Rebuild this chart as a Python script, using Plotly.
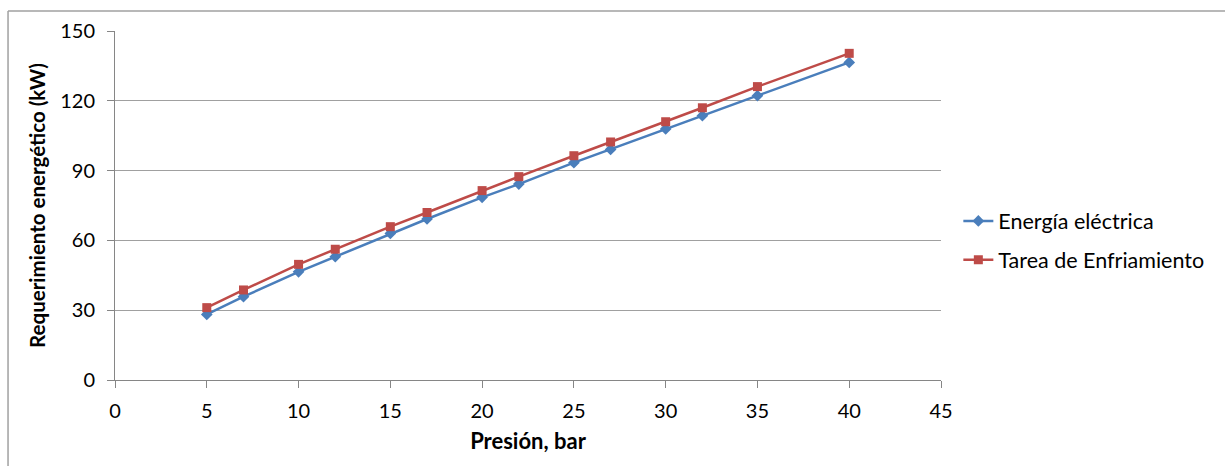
import plotly.graph_objects as go

presion = [5, 7, 10, 12, 15, 17, 20, 22, 25, 27, 30, 32, 35, 40]
energia_electrica = [28.2, 35.8, 46.5, 53.0, 63.0, 69.2, 78.5, 84.2, 93.4, 99.1, 107.9, 113.6, 122.2, 136.5]
tarea_enfriamiento = [31.1, 38.7, 49.7, 56.2, 65.9, 72.0, 81.4, 87.4, 96.4, 102.3, 111.0, 117.0, 126.1, 140.4]

FONT = "Lato, 'Open Sans', sans-serif"

fig = go.Figure()
fig.add_trace(go.Scatter(
    x=presion, y=energia_electrica, mode="lines+markers", name="Energía eléctrica",
    line=dict(color="#4A7EBB", width=2.5),
    marker=dict(symbol="diamond", size=9, color="#4A7EBB"),
    legendgroup="a",
))
fig.add_trace(go.Scatter(
    x=presion, y=tarea_enfriamiento, mode="lines+markers", name="Tarea de Enfriamiento",
    line=dict(color="#BE4B48", width=2.5),
    marker=dict(symbol="square", size=9, color="#BE4B48"),
    legendgroup="b",
))

fig.update_layout(
    width=1225, height=466,
    margin=dict(l=115, r=284, t=31, b=86),
    paper_bgcolor="white", plot_bgcolor="white",
    font=dict(family=FONT, size=20, color="#000"),
    showlegend=True,
    legend=dict(x=1.021, y=0.40, xanchor="left", yanchor="middle",
                font=dict(size=21.5, family=FONT, color="#000"),
                tracegroupgap=8, bgcolor="rgba(0,0,0,0)"),
    xaxis=dict(
        range=[0, 45], tickvals=[0, 5, 10, 15, 20, 25, 30, 35, 40, 45],
        showgrid=False, zeroline=False,
        showline=True, linecolor="#868686", linewidth=1,
        ticks="outside", ticklen=7, tickcolor="#868686",
        ticklabelstandoff=6,
        tickfont=dict(size=20, family=FONT),
        title=dict(text="<b>Presión, bar</b>", font=dict(size=22, family=FONT), standoff=12),
    ),
    yaxis=dict(
        range=[0, 150], tickvals=[0, 30, 60, 90, 120, 150],
        showgrid=True, gridcolor="#A0A0A0", gridwidth=1,
        zeroline=False,
        showline=True, linecolor="#868686", linewidth=1,
        ticks="outside", ticklen=7, tickcolor="#868686",
        ticklabelstandoff=8,
        tickfont=dict(size=20, family=FONT),
        title=dict(text="<b>Requerimiento energético (kW)</b>", font=dict(size=20.5, family=FONT), standoff=9),
    ),
    shapes=[
        dict(type="line", xref="paper", yref="paper", x0=-0.1295, x1=1.4, y0=1.0573, y1=1.0573,
             line=dict(color="#A0A0A0", width=1.5)),
        dict(type="line", xref="paper", yref="paper", x0=-0.1295, x1=-0.1295, y0=1.0573, y1=-0.3,
             line=dict(color="#A0A0A0", width=1.5)),
    ],
)

fig.write_html("out.html")
